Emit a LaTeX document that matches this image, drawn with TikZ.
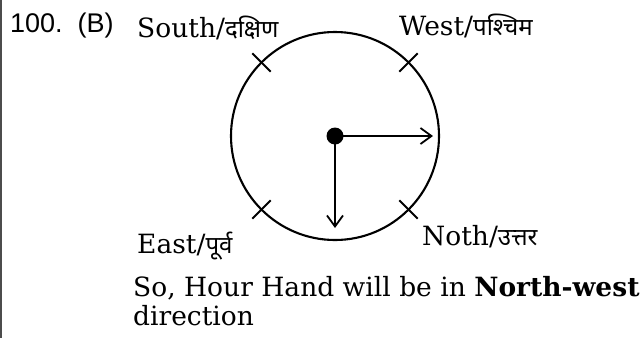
\documentclass[tikz,border=0pt]{standalone}
\usepackage{fontspec}
\setmainfont{DejaVu Serif}
\newfontfamily\numfont{Liberation Sans}
\newfontfamily\hindi[Script=Devanagari]{Noto Sans}
\newcommand{\hin}[1]{{\hindi\bfseries\fontsize{24}{28}\selectfont #1}}
\usetikzlibrary{arrows.meta}

\begin{document}
\begin{tikzpicture}[x=1pt,y=-1pt,
  lbl/.style={anchor=base west,inner sep=0pt,font=\fontsize{26.5}{31}\selectfont},
  hand/.style={line width=1.8pt,-{Straight Barb[length=11pt,width=16pt,line width=1.8pt]}}]
  \useasboundingbox (0,0) rectangle (642,338);
  % page rule on the left
  \draw[gray!60!black,line width=1.5pt] (1,0) -- (1,338);
  % clock dial
  \node[circle,draw,line width=2.1pt,minimum size=208pt,inner sep=0pt] (dial) at (335,136) {};
  \node[circle,fill,minimum size=17pt,inner sep=0pt] (hub) at (dial.center) {};
  \foreach \a in {45,135,225,315}
    \draw[line width=1.8pt] (dial.center) ++(\a:91) -- ++(\a:26);
  % hands
  \coordinate (three) at (433,136);
  \coordinate (six) at (335,228);
  \draw[hand] (hub.center) -- (three);
  \draw[hand] (hub.center) -- (six);
  % labels
  \node[lbl] (qno) at (10,32) {\numfont\fontsize{27}{31}\selectfont 100.\hspace{15pt}(B)};
  \node[lbl] (south) at (137,37) {South/\hin{दक्षिण}};
  \node[lbl] (west) at (399,35) {West/\hin{पश्चिम}};
  \node[lbl] (east) at (137,253) {East/\hin{पूर्व}};
  \node[lbl] (noth) at (422,245) {Noth/\hin{उत्तर}};
  \node[lbl] (ans) at (133,296) {So, Hour Hand will be in \textbf{North-west}};
  \node[lbl] (ans2) at (133,325) {direction};
\end{tikzpicture}
\end{document}
